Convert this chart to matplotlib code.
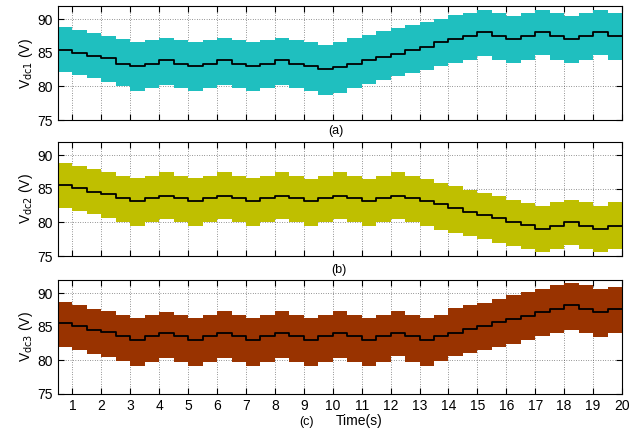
import numpy as np
import matplotlib
matplotlib.use('Agg')
import matplotlib.pyplot as plt

plt.rcParams['font.family'] = ['Liberation Sans', 'DejaVu Sans']

# step start times (half-second steps from 0.5 s to 19.5 s)
t = np.arange(0.5, 20.0, 0.5)

# Vdc1 mean (black) and ripple envelope
vdc1 = [85.5, 85.0, 84.6, 84.2, 83.4, 83.0, 83.4, 83.9, 83.4, 83.0,
        83.4, 83.9, 83.4, 83.0, 83.4, 83.9, 83.4, 83.0, 82.6, 82.9,
        83.4, 83.9, 84.4, 84.9, 85.4, 85.9, 86.6, 87.1, 87.5, 88.1,
        87.6, 87.1, 87.6, 88.1, 87.6, 87.1, 87.6, 88.1, 87.6]
vdc1_hi = [88.8, 88.4, 88.0, 87.6, 87.1, 86.7, 86.9, 87.3, 86.9, 86.6,
           86.9, 87.3, 86.9, 86.6, 86.9, 87.3, 86.9, 86.6, 86.2, 86.7,
           87.2, 87.7, 88.2, 88.7, 89.2, 89.6, 90.1, 90.6, 91.0, 91.4,
           91.0, 90.5, 91.0, 91.4, 91.0, 90.5, 91.0, 91.4, 91.0]
vdc1_lo = [82.2, 81.7, 81.2, 80.7, 80.0, 79.4, 79.8, 80.2, 79.8, 79.4,
           79.8, 80.2, 79.8, 79.4, 79.8, 80.2, 79.8, 79.3, 78.7, 79.1,
           79.8, 80.4, 80.9, 81.5, 82.0, 82.5, 83.0, 83.5, 84.0, 84.5,
           84.0, 83.5, 84.0, 84.7, 84.0, 83.5, 84.0, 84.7, 84.0]

# Vdc2
vdc2 = [85.6, 85.1, 84.6, 84.2, 83.6, 83.2, 83.6, 84.0, 83.6, 83.2,
        83.6, 84.0, 83.6, 83.2, 83.6, 84.0, 83.6, 83.2, 83.6, 84.0,
        83.6, 83.2, 83.6, 84.0, 83.6, 83.2, 82.7, 82.1, 81.6, 81.1,
        80.6, 80.1, 79.6, 79.1, 79.5, 80.1, 79.5, 79.1, 79.5]
vdc2_hi = [88.9, 88.4, 88.0, 87.6, 87.0, 86.6, 87.0, 87.5, 87.0, 86.6,
           87.0, 87.5, 87.0, 86.6, 87.0, 87.5, 87.0, 86.5, 87.0, 87.5,
           87.0, 86.5, 87.0, 87.5, 87.0, 86.5, 85.9, 85.4, 84.9, 84.4,
           83.9, 83.4, 82.9, 82.5, 83.0, 83.4, 83.0, 82.5, 83.0]
vdc2_lo = [82.2, 81.7, 81.2, 80.7, 80.1, 79.5, 80.0, 80.5, 80.0, 79.5,
           80.0, 80.5, 80.0, 79.5, 80.0, 80.5, 80.0, 79.5, 80.0, 80.5,
           80.0, 79.5, 80.0, 80.5, 80.0, 79.5, 78.9, 78.5, 78.0, 77.5,
           77.0, 76.5, 76.0, 75.6, 76.1, 76.6, 76.1, 75.6, 76.1]

# Vdc3
vdc3 = [85.6, 85.1, 84.6, 84.2, 83.6, 83.1, 83.6, 84.1, 83.6, 83.1,
        83.6, 84.1, 83.6, 83.1, 83.6, 84.1, 83.6, 83.1, 83.6, 84.1,
        83.6, 83.1, 83.6, 84.1, 83.6, 83.1, 83.6, 84.1, 84.7, 85.2,
        85.7, 86.2, 86.7, 87.2, 87.7, 88.2, 87.7, 87.2, 87.7]
vdc3_hi = [88.7, 88.3, 87.7, 87.3, 86.8, 86.3, 86.8, 87.2, 86.8, 86.3,
           86.8, 87.3, 86.8, 86.3, 86.8, 87.3, 86.8, 86.3, 86.8, 87.3,
           86.8, 86.3, 86.8, 87.3, 86.8, 86.3, 86.8, 87.8, 88.2, 88.6,
           89.2, 89.7, 90.2, 90.7, 91.2, 91.6, 91.2, 90.6, 91.0]
vdc3_lo = [82.0, 81.5, 81.0, 80.5, 79.9, 79.2, 79.7, 80.4, 79.7, 79.2,
           79.7, 80.4, 79.7, 79.2, 79.7, 80.4, 79.7, 79.2, 79.7, 80.3,
           79.7, 79.2, 79.7, 80.6, 79.7, 79.2, 79.9, 80.6, 81.1, 81.5,
           82.0, 82.5, 83.1, 83.6, 84.1, 84.6, 84.1, 83.5, 84.1]

panels = [
    (vdc1, vdc1_hi, vdc1_lo, '#1fbfbf', r'V$_{\rm dc1}$ (V)'),
    (vdc2, vdc2_hi, vdc2_lo, '#bfbf00', r'V$_{\rm dc2}$ (V)'),
    (vdc3, vdc3_hi, vdc3_lo, '#993300', r'V$_{\rm dc3}$ (V)'),
]

def ext(v):
    # repeat the last value so the final step reaches t = 20
    return list(v) + [v[-1]]

fig = plt.figure(figsize=(6.39, 4.32), dpi=100)
tt = list(t) + [20.0]
bottoms = [0.7222, 0.4074, 0.0880]
for i, (mid, hi, lo, col, lab) in enumerate(panels):
    ax = fig.add_axes([0.0908, bottoms[i], 0.8826, 0.2639])
    ax.set_axisbelow(True)
    ax.fill_between(tt, ext(lo), ext(hi), step='post', color=col, lw=0, zorder=2)
    ax.plot(tt, ext(mid), drawstyle='steps-post', color='black', lw=1.3, zorder=3)
    ax.set_xlim(0.5, 20)
    ax.set_ylim(75, 92)
    ax.set_xticks(range(1, 21))
    ax.set_yticks([75, 80, 85, 90])
    ax.grid(True, color='#333333', linestyle=(0, (1, 2.5)), linewidth=0.5)
    ax.tick_params(direction='in', top=True, right=True, labelsize=10,
                   length=4, width=0.8)
    ax.set_ylabel(lab, fontsize=10, labelpad=2)
    for s in ax.spines.values():
        s.set_linewidth(0.8)
        s.set_zorder(4)
    if i < 2:
        ax.set_xticklabels([])

fig.text(336 / 639, 1 - 131 / 432, '(a)', ha='center', va='center', fontsize=9)
fig.text(339 / 639, 1 - 270 / 432, '(b)', ha='center', va='center', fontsize=9)
fig.text(306 / 639, 1 - 422 / 432, '(c)', ha='center', va='center', fontsize=9)
fig.text(359 / 639, 1 - 421 / 432, 'Time(s)', ha='center', va='center', fontsize=10)

fig.savefig('out.png', dpi=100)
plt.close(fig)
